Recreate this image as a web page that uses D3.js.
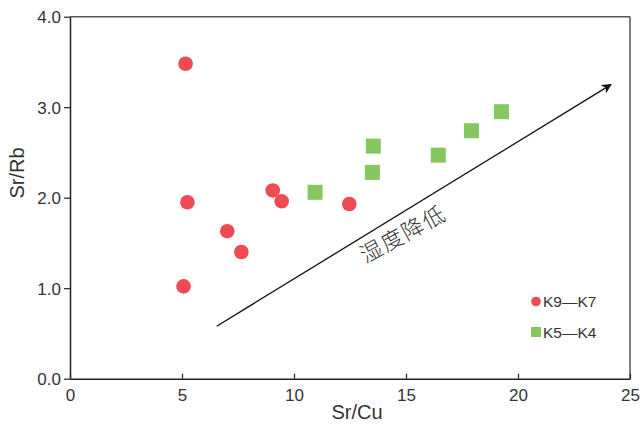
<!DOCTYPE html>
<html><head><meta charset="utf-8">
<script src="https://cdn.jsdelivr.net/npm/d3@7"></script>
<style>body{margin:0;background:#fff}svg{display:block}</style>
</head><body><svg id="c" width="641" height="426"></svg>
<script>
const xTicks = [0, 5, 10, 15, 20, 25];
const yTicks = [0, 1, 2, 3, 4];
const redX = [5.16, 5.24, 9.05, 9.45, 7.02, 7.65, 5.07, 12.47];
const redY = [3.48, 1.95, 2.08, 1.96, 1.63, 1.40, 1.02, 1.93];
const greenX = [10.94, 13.54, 13.5, 16.44, 17.92, 19.26];
const greenY = [2.06, 2.57, 2.28, 2.47, 2.74, 2.95];
const seriesNames = ["K9\u2014K7", "K5\u2014K4"];
const arrowFrom = [6.55, 0.58];
const arrowTo = [24.15, 3.25];
const arrowLabel = "湿度降低";
const xTitle = "Sr/Cu", yTitle = "Sr/Rb";

const svg = d3.select("#c");
const L = 70, R = 630, T = 16.7, B = 378.7;
const x = d3.scaleLinear().domain([0, 25]).range([L, R]);
const y = d3.scaleLinear().domain([0, 4]).range([B, T]);
const red = "#ee4b53", green = "#86c75f";
const font = "'Liberation Sans', Arial, sans-serif";

// frame top/right
svg.append("line").attr("x1", L).attr("x2", R).attr("y1", T).attr("y2", T).attr("stroke", "#555").attr("stroke-width", 1.5);
svg.append("line").attr("x1", R).attr("x2", R).attr("y1", T).attr("y2", B).attr("stroke", "#555").attr("stroke-width", 1.5);

const xAxis = svg.append("g").attr("transform", `translate(0,${B})`)
  .call(d3.axisBottom(x).tickValues(xTicks).tickFormat(d3.format("d")).tickSizeInner(-5).tickSizeOuter(0).tickPadding(10));
const yAxis = svg.append("g").attr("transform", `translate(${L},0)`)
  .call(d3.axisLeft(y).tickValues(yTicks).tickFormat(d3.format(".1f")).tickSizeInner(6).tickSizeOuter(0).tickPadding(3));
[xAxis, yAxis].forEach(g => {
  g.select(".domain").attr("stroke", "#222").attr("stroke-width", 1.5);
  g.selectAll(".tick line").attr("stroke", "#222").attr("stroke-width", 1.2);
  g.selectAll(".tick text").attr("fill", "#333").style("font-family", font).style("font-size", "17px");
});
xAxis.selectAll(".tick text").attr("dy", "0.72em");
yAxis.selectAll(".tick text").attr("dy", "0.36em");

svg.append("text").attr("x", (L + R) / 2 + 7).attr("y", 419).attr("text-anchor", "middle")
  .style("font-family", font).style("font-size", "20px").attr("fill", "#333").text(xTitle);
svg.append("text").attr("transform", "translate(24,173) rotate(-90)").attr("text-anchor", "middle")
  .style("font-family", font).style("font-size", "20px").attr("fill", "#333").text(yTitle);

// arrow
svg.append("defs").append("marker").attr("id", "ah").attr("viewBox", "0 0 10 10")
  .attr("refX", 9).attr("refY", 5).attr("markerWidth", 10).attr("markerHeight", 10)
  .attr("markerUnits", "userSpaceOnUse").attr("orient", "auto")
  .append("path").attr("d", "M0,0 L10,5 L0,10 L3,5 Z").attr("fill", "#111");
svg.append("line").attr("x1", x(arrowFrom[0])).attr("y1", y(arrowFrom[1]))
  .attr("x2", x(arrowTo[0])).attr("y2", y(arrowTo[1]))
  .attr("stroke", "#111").attr("stroke-width", 1.3).attr("marker-end", "url(#ah)");
svg.append("text").attr("transform", "translate(403,234) rotate(-28.5)").attr("text-anchor", "middle")
  .attr("dy", "0.36em")
  .style("font-family", "'Noto Sans CJK SC', sans-serif").style("font-size", "22px").style("font-weight", 300)
  .style("letter-spacing", "1.5px").attr("fill", "#333")
  .text(arrowLabel);

// points
svg.append("g").selectAll("circle").data(redX.map((d, i) => [d, redY[i]])).join("circle")
  .attr("cx", d => x(d[0])).attr("cy", d => y(d[1])).attr("r", 7.3).attr("fill", red);
const s = 15;
svg.append("g").selectAll("rect").data(greenX.map((d, i) => [d, greenY[i]])).join("rect")
  .attr("x", d => x(d[0]) - s / 2).attr("y", d => y(d[1]) - s / 2).attr("width", s).attr("height", s).attr("fill", green);

// legend
const lg = svg.append("g");
lg.append("circle").attr("cx", 536).attr("cy", 301.5).attr("r", 4.8).attr("fill", red);
lg.append("rect").attr("x", 531).attr("y", 327).attr("width", 10).attr("height", 10).attr("fill", green);
lg.selectAll("text").data(seriesNames).join("text").attr("x", 543).attr("y", (d, i) => 301.5 + i * 31)
  .attr("dy", "0.36em").style("font-family", font).style("font-size", "15.5px").attr("fill", "#333").text(d => d);
</script></body></html>
